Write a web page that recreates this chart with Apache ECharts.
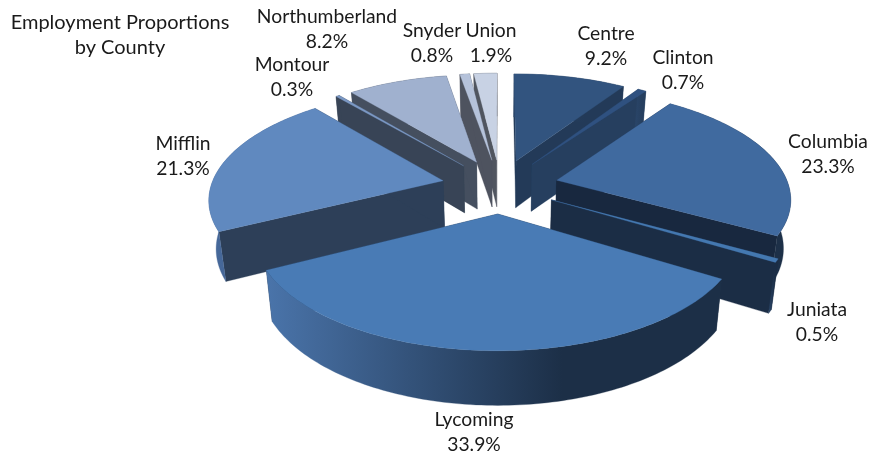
<!DOCTYPE html>
<html>
<head>
<meta charset="utf-8">
<style>
  html, body { margin: 0; padding: 0; background: #fff; }
  #chart { width: 875px; height: 452px; }
</style>
<script src="https://cdn.jsdelivr.net/npm/echarts@6/dist/echarts.min.js"></script>
</head>
<body>
<div id="chart"></div>
<script>
// chart data (clockwise from 12 o'clock)
const counties = ["Centre", "Clinton", "Columbia", "Juniata", "Lycoming", "Mifflin", "Montour", "Northumberland", "Snyder", "Union"];
const shares = [9.2, 0.7, 23.3, 0.5, 33.9, 21.3, 0.3, 8.2, 0.8, 1.9];

// colours per slice
const topColors = ["#32547f", "#2f5180", "#406a9f", "#4478b0", "#497bb5", "#6089bf", "#7b98c4", "#a0b1cf", "#b5c2da", "#c8d2e4"];
const wallColors = ["#233a58", "#263f5f", "#18283f", "#1b2d45", "#1d3048", "#2d3f58", "#384456", "#454f5f", "#4e535f", "#50555f"];
const rimLeftColors = ["#2a466a", "#2a466a", "#2a4669", "#2a4669", "#4a74aa", "#47699b", "#384456", "#454f5f", "#4e535f", "#50555f"];
const rimRightColors = ["#233a58", "#263f5f", "#1d3048", "#1b2d45", "#1c2f47", "#3f5f8c", "#384456", "#454f5f", "#4e535f", "#50555f"];

// label centres
const labelSpots = [[606, 46], [683, 70], [828, 154], [817, 322], [474, 432], [183, 156], [292, 77], [327, 29], [432, 43], [491, 43]];

// pie geometry, fitted to the picture (perspective view of a flat disc)
const CX = 500, CY = 186;
const SCALE_X = 232, SCALE_Y = 107, VIEW_DIST = 6.7;
const EXPLODE = 0.252, THICK = 47.8, SHRINK = 0.975;

const total = shares.reduce((a, b) => a + b, 0);

function project(x, y, lower) {
  const s = 1 / (1 - y / VIEW_DIST);
  const px = CX + SCALE_X * x * s;
  const py = CY + SCALE_Y * y * s;
  if (!lower) return [px, py];
  return [CX + (px - CX) * SHRINK, CY + (py - CY) * SHRINK + THICK * s];
}

// [share, start of the slice, county index]; drawn back to front
let cum = 0;
const slices = shares.map((v, i) => {
  const row = [v, cum, i];
  cum += v;
  return row;
});
const midAngle = (r) => ((r[1] + r[0] / 2) / total) * Math.PI * 2;
slices.sort((a, b) => Math.cos(midAngle(b)) - Math.cos(midAngle(a)));

function renderSlice(params, api) {
  const v = api.value(0), start = api.value(1), idx = api.value(2);
  const a0 = (start / total) * Math.PI * 2;
  const a1 = ((start + v) / total) * Math.PI * 2;
  const mid = (a0 + a1) / 2;
  const ox = EXPLODE * Math.sin(mid), oy = -EXPLODE * Math.cos(mid);

  const n = Math.ceil((a1 - a0) / 0.02) + 1;
  const rimTop = [], rimLow = [];
  for (let k = 0; k <= n; k++) {
    const a = a0 + ((a1 - a0) * k) / n;
    const x = ox + Math.sin(a), y = oy - Math.cos(a);
    rimTop.push(project(x, y));
    rimLow.push(project(x, y, true));
  }
  const apexTop = project(ox, oy), apexLow = project(ox, oy, true);

  const poly = (points, fill) => ({
    type: "polygon",
    shape: { points: points },
    style: { fill: fill, stroke: fill, lineWidth: 0.3 }
  });

  const rimFill = new echarts.graphic.LinearGradient(0, 0, 1, 0, [
    { offset: 0, color: rimLeftColors[idx] },
    { offset: 0.65, color: rimRightColors[idx] },
    { offset: 1, color: rimRightColors[idx] }
  ]);

  const wall = wallColors[idx];
  const lines = [counties[idx], v.toFixed(1) + "%"].join("\n");
  return {
    type: "group",
    children: [
      poly([apexTop, rimTop[0], rimLow[0], apexLow], wall),
      poly([apexTop, rimTop[n], rimLow[n], apexLow], wall),
      poly(rimTop.concat(rimLow.slice().reverse()), rimFill),
      poly([apexTop].concat(rimTop), topColors[idx]),
      {
        type: "text",
        style: {
          text: lines,
          x: labelSpots[idx][0],
          y: labelSpots[idx][1],
          align: "center",
          verticalAlign: "middle",
          fill: "#1a1a1a",
          font: "19.3px Lato",
          lineHeight: 25
        }
      }
    ]
  };
}

const chart = echarts.init(document.getElementById("chart"));
chart.setOption({
  animation: false,
  backgroundColor: "#fff",
  title: {
    text: "Employment Proportions\nby County",
    left: 115,
    top: 5,
    textAlign: "center",
    textStyle: { fontFamily: "Lato", fontWeight: "normal", fontSize: 20, lineHeight: 25, color: "#1a1a1a" }
  },
  series: [
    {
      type: "custom",
      coordinateSystem: "none",
      renderItem: renderSlice,
      data: slices
    }
  ]
});
</script>
</body>
</html>
